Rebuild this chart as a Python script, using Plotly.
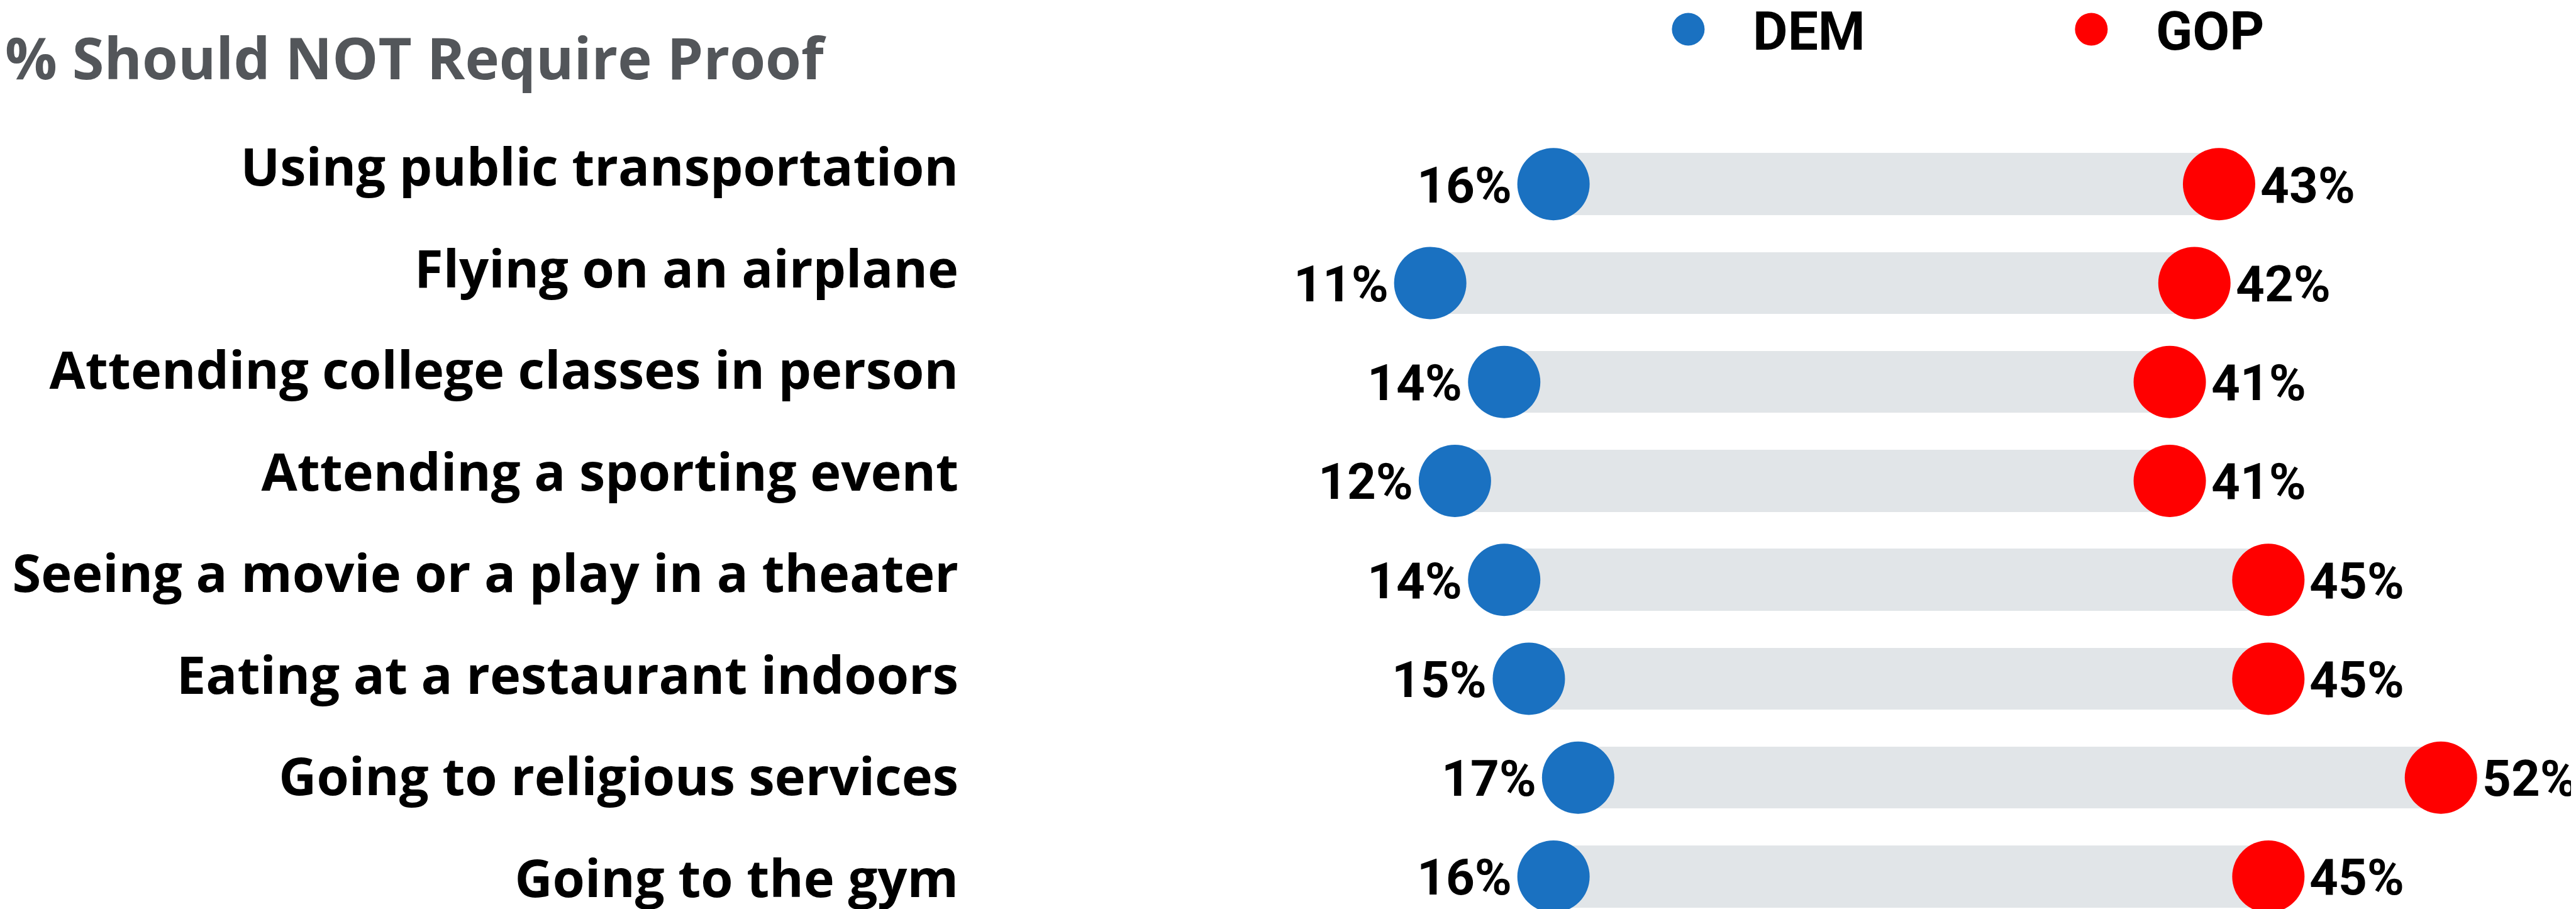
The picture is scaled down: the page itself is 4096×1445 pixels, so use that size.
import plotly.graph_objects as go

# ---- data ----
categories = [
    "Using public transportation",
    "Flying on an airplane",
    "Attending college classes in person",
    "Attending a sporting event",
    "Seeing a movie or a play in a theater",
    "Eating at a restaurant indoors",
    "Going to religious services",
    "Going to the gym",
]
dem = [16, 11, 14, 12, 14, 15, 17, 16]
gop = [43, 42, 41, 41, 45, 45, 52, 45]
series_names = ["DEM", "GOP"]
title_text = "% Should NOT Require Proof"

# ---- style ----
W, H = 4096, 1445
DEM_C = "#1a71c1"
GOP_C = "#ff0000"
BAR_C = "#e1e5e8"
TITLE_C = "#53565a"
FONT = "Roboto"
LABEL_FONT = "Open Sans"

ML = 1834.5          # pixel of 0 %
PX_PER = 39.2        # pixels per percent
XMAX = 56
MR = W - ML - XMAX * PX_PER
ROW0 = 284.3         # first row centre (px)
ROW_STEP = 157.3
MT = ROW0 - 0.5 * ROW_STEP
MB = 0
PH = H - MT - MB
PW = W - ML - MR

LAB0 = 258.0         # first label centre (px)
LAB_STEP = 161.55

DOT = 115
R = DOT / 2
BAR_W = 98.4 / ROW_STEP

def paper_x(px):
    return (px - ML) / PW

def paper_y(py):
    return (H - MB - py) / PH

idx = list(range(len(categories)))

fig = go.Figure()
fig.add_trace(go.Bar(
    y=idx, x=[g - d for d, g in zip(dem, gop)], base=dem, orientation="h",
    width=BAR_W, marker=dict(color=BAR_C, line=dict(width=0)),
    showlegend=False, hoverinfo="skip"))
fig.add_trace(go.Scatter(
    x=dem, y=idx, mode="markers", name=series_names[0],
    marker=dict(size=DOT, color=DEM_C, line=dict(width=0)),
    cliponaxis=False, showlegend=False))
fig.add_trace(go.Scatter(
    x=gop, y=idx, mode="markers", name=series_names[1],
    marker=dict(size=DOT, color=GOP_C, line=dict(width=0)),
    cliponaxis=False, showlegend=False))
# invisible trace carrying the label axis
fig.add_trace(go.Scatter(
    x=dem, y=idx, yaxis="y2", mode="markers", opacity=0,
    marker=dict(size=1), showlegend=False, hoverinfo="skip"))

annotations = []
val_font = dict(family=FONT, size=80, color="#000000", weight=700)
for i, (d, g) in enumerate(zip(dem, gop)):
    annotations.append(dict(
        x=d, y=i, xref="x", yref="y", text=f"{d}%", showarrow=False,
        xanchor="right", yanchor="middle", xshift=-(R + 8), yshift=-2,
        font=val_font, borderpad=0))
    annotations.append(dict(
        x=g, y=i, xref="x", yref="y", text=f"{g}%", showarrow=False,
        xanchor="left", yanchor="middle", xshift=(R + 7), yshift=-2,
        font=val_font, borderpad=0))

# legend
leg_font = dict(family=FONT, size=85.6, color="#000000", weight=700)
legend_items = [(series_names[0], DEM_C, 2676, 2778), (series_names[1], GOP_C, 3317, 3419)]
shapes = []
for name, col, dot_px, txt_px in legend_items:
    shapes.append(dict(
        type="circle", xref="paper", yref="paper",
        xsizemode="pixel", ysizemode="pixel",
        xanchor=paper_x(dot_px), yanchor=paper_y(38),
        x0=-26, x1=26, y0=-26, y1=26,
        fillcolor=col, line=dict(width=0)))
    annotations.append(dict(
        x=paper_x(txt_px), y=paper_y(42), xref="paper", yref="paper",
        text=name, showarrow=False, xanchor="left", yanchor="middle",
        font=leg_font, borderpad=0))

fig.update_layout(
    width=W, height=H,
    margin=dict(l=ML, r=MR, t=MT, b=MB, autoexpand=False),
    paper_bgcolor="white", plot_bgcolor="white",
    bargap=0,
    title=dict(text=title_text, x=0, xref="container", xanchor="left",
               y=1 - 86 / H, yref="container", yanchor="middle",
               font=dict(family=LABEL_FONT, size=92, color=TITLE_C, weight=700),
               pad=dict(l=0, r=0, t=0, b=0)),
    xaxis=dict(range=[0, XMAX], visible=False, fixedrange=True),
    yaxis=dict(range=[(H - MB - ROW0) / ROW_STEP, -0.5], visible=False,
               fixedrange=True),
    yaxis2=dict(overlaying="y", side="left",
                range=[(H - MB - LAB0) / LAB_STEP, (MT - LAB0) / LAB_STEP],
                tickmode="array", tickvals=idx, ticktext=categories,
                ticks="", showgrid=False, zeroline=False, showline=False,
                ticklabelstandoff=318,
                tickfont=dict(family=LABEL_FONT, size=83, color="#000000", weight=700),
                fixedrange=True, automargin=False),
    shapes=shapes,
    annotations=annotations,
    showlegend=False,
)

fig.write_html("out.html")
